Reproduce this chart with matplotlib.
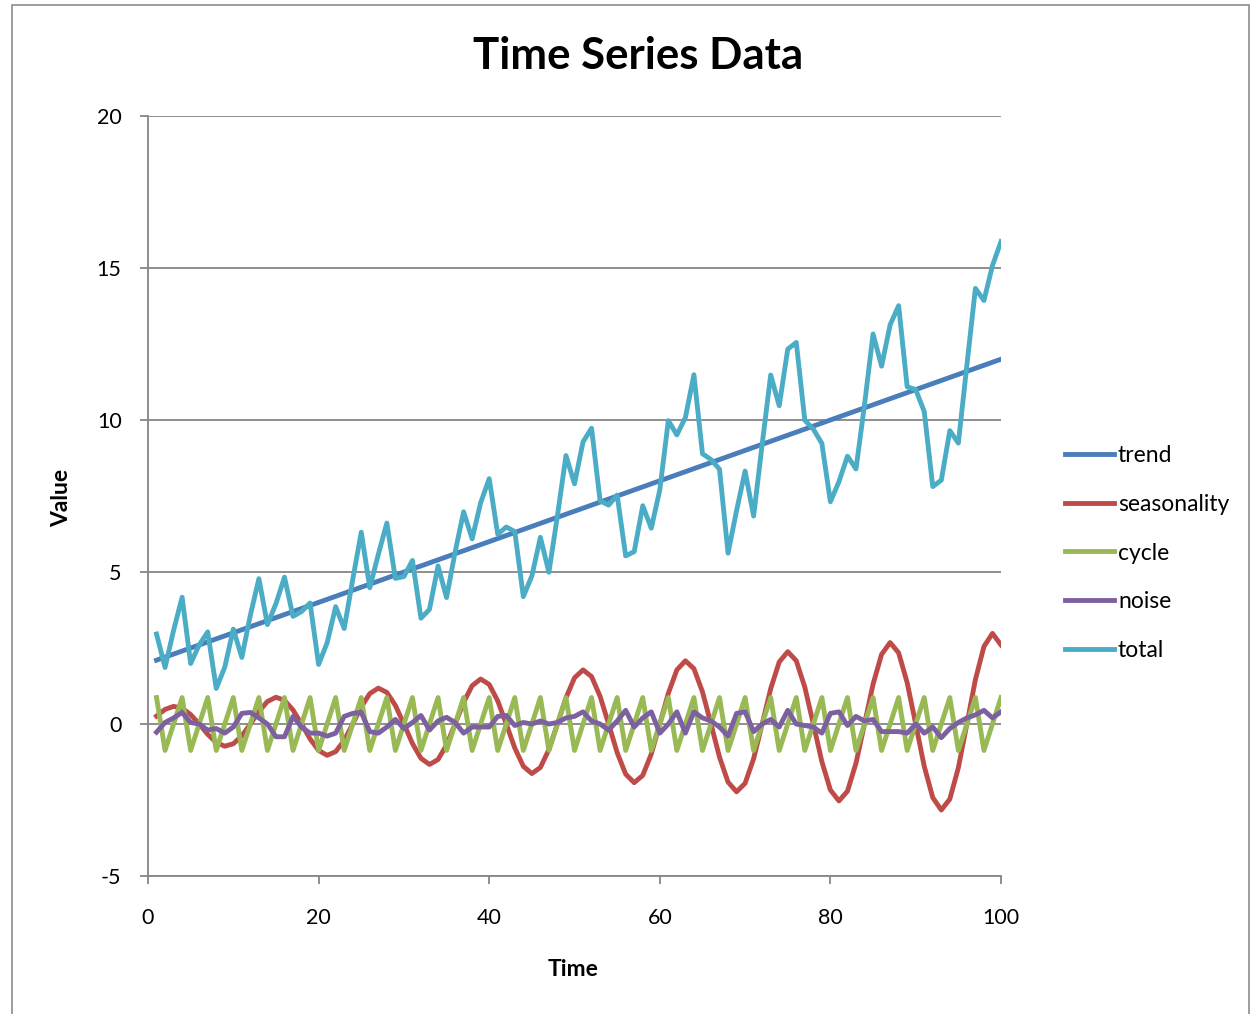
import numpy as np
import matplotlib
matplotlib.use("Agg")
import matplotlib.pyplot as plt
from matplotlib.patches import Rectangle

plt.rcParams['font.family'] = ['Lato', 'DejaVu Sans']
plt.rcParams['axes.unicode_minus'] = False

# datos (t = 1..100)
time = list(range(1, 101))

trend = [2.1, 2.2, 2.3, 2.4, 2.5, 2.6, 2.7, 2.8, 2.9, 3.0,
         3.1, 3.2, 3.3, 3.4, 3.5, 3.6, 3.7, 3.8, 3.9, 4.0,
         4.1, 4.2, 4.3, 4.4, 4.5, 4.6, 4.7, 4.8, 4.9, 5.0,
         5.1, 5.2, 5.3, 5.4, 5.5, 5.6, 5.7, 5.8, 5.9, 6.0,
         6.1, 6.2, 6.3, 6.4, 6.5, 6.6, 6.7, 6.8, 6.9, 7.0,
         7.1, 7.2, 7.3, 7.4, 7.5, 7.6, 7.7, 7.8, 7.9, 8.0,
         8.1, 8.2, 8.3, 8.4, 8.5, 8.6, 8.7, 8.8, 8.9, 9.0,
         9.1, 9.2, 9.3, 9.4, 9.5, 9.6, 9.7, 9.8, 9.9, 10.0,
         10.1, 10.2, 10.3, 10.4, 10.5, 10.6, 10.7, 10.8, 10.9, 11.0,
         11.1, 11.2, 11.3, 11.4, 11.5, 11.6, 11.7, 11.8, 11.9, 12.0]

seasonality = [0.26, 0.48, 0.58, 0.52, 0.31, 0.0, -0.34, -0.61, -0.73, -0.65,
               -0.39, 0.0, 0.41, 0.74, 0.88, 0.78, 0.46, 0.0, -0.49, -0.87,
               -1.03, -0.91, -0.54, 0.0, 0.56, 1.0, 1.18, 1.04, 0.61, 0.0,
               -0.64, -1.13, -1.33, -1.17, -0.69, 0.0, 0.71, 1.26, 1.48, 1.3,
               0.76, 0.0, -0.79, -1.39, -1.63, -1.43, -0.84, 0.0, 0.86, 1.52,
               1.78, 1.56, 0.91, 0.0, -0.94, -1.65, -1.93, -1.69, -0.99, 0.0,
               1.01, 1.78, 2.08, 1.82, 1.06, 0.0, -1.09, -1.91, -2.23, -1.95,
               -1.14, 0.0, 1.16, 2.04, 2.38, 2.08, 1.21, 0.0, -1.24, -2.17,
               -2.53, -2.21, -1.29, 0.0, 1.31, 2.29, 2.68, 2.34, 1.36, 0.0,
               -1.39, -2.42, -2.83, -2.47, -1.44, 0.0, 1.46, 2.55, 2.98, 2.6]

cycle = [0.87, -0.87, 0.0, 0.87, -0.87, 0.0, 0.87, -0.87, 0.0, 0.87,
         -0.87, 0.0, 0.87, -0.87, 0.0, 0.87, -0.87, 0.0, 0.87, -0.87,
         0.0, 0.87, -0.87, 0.0, 0.87, -0.87, 0.0, 0.87, -0.87, 0.0,
         0.87, -0.87, 0.0, 0.87, -0.87, 0.0, 0.87, -0.87, 0.0, 0.87,
         -0.87, 0.0, 0.87, -0.87, 0.0, 0.87, -0.87, 0.0, 0.87, -0.87,
         0.0, 0.87, -0.87, 0.0, 0.87, -0.87, 0.0, 0.87, -0.87, 0.0,
         0.87, -0.87, 0.0, 0.87, -0.87, 0.0, 0.87, -0.87, 0.0, 0.87,
         -0.87, 0.0, 0.87, -0.87, 0.0, 0.87, -0.87, 0.0, 0.87, -0.87,
         0.0, 0.87, -0.87, 0.0, 0.87, -0.87, 0.0, 0.87, -0.87, 0.0,
         0.87, -0.87, 0.0, 0.87, -0.87, 0.0, 0.87, -0.87, 0.0, 0.87]

noise = [-0.27, 0.05, 0.2, 0.38, 0.05, 0.0, -0.2, -0.15, -0.3, -0.1,
         0.35, 0.38, 0.2, 0.0, -0.42, -0.42, 0.25, -0.1, -0.3, -0.3,
         -0.4, -0.3, 0.25, 0.35, 0.38, -0.25, -0.3, -0.1, 0.15, -0.15,
         0.05, 0.28, -0.2, 0.1, 0.22, 0.05, -0.3, -0.1, -0.1, -0.1,
         0.25, 0.28, -0.05, 0.05, 0.0, 0.1, 0.0, 0.05, 0.2, 0.25,
         0.4, 0.1, 0.0, -0.2, 0.1, 0.45, -0.1, 0.2, 0.4, -0.3,
         0.0, 0.4, -0.3, 0.4, 0.2, 0.1, -0.1, -0.4, 0.35, 0.4,
         -0.25, 0.0, 0.15, -0.1, 0.45, 0.0, -0.05, -0.1, -0.3, 0.35,
         0.4, -0.05, 0.25, 0.1, 0.15, -0.25, -0.25, -0.25, -0.3, 0.0,
         -0.3, -0.1, -0.45, -0.15, 0.05, 0.2, 0.3, 0.45, 0.2, 0.4]

total = [2.96, 1.86, 3.08, 4.17, 1.99, 2.6, 3.03, 1.17, 1.87, 3.12,
         2.19, 3.58, 4.78, 3.27, 3.96, 4.83, 3.54, 3.7, 3.98, 1.96,
         2.67, 3.86, 3.14, 4.75, 6.31, 4.48, 5.58, 6.61, 4.79, 4.85,
         5.38, 3.48, 3.77, 5.2, 4.16, 5.65, 6.98, 6.09, 7.28, 8.07,
         6.24, 6.48, 6.33, 4.19, 4.87, 6.14, 4.99, 6.85, 8.83, 7.9,
         9.28, 9.73, 7.34, 7.2, 7.53, 5.53, 5.67, 7.18, 6.44, 7.7,
         9.98, 9.51, 10.08, 11.49, 8.89, 8.7, 8.38, 5.62, 7.02, 8.32,
         6.84, 9.2, 11.48, 10.47, 12.33, 12.55, 9.99, 9.7, 9.23, 7.31,
         7.97, 8.81, 8.39, 10.5, 12.83, 11.77, 13.13, 13.76, 11.09, 11.0,
         10.28, 7.81, 8.02, 9.65, 9.24, 11.8, 14.33, 13.93, 15.08, 15.87]

series = [("trend", trend, "#4A7EBB"),
          ("seasonality", seasonality, "#BE4B48"),
          ("cycle", cycle, "#98B954"),
          ("noise", noise, "#7D60A0"),
          ("total", total, "#4BACC6")]

fig = plt.figure(figsize=(12.51, 10.14), dpi=100)
ax = fig.add_axes([148 / 1251, 1 - 876 / 1014, 853 / 1251, 760 / 1014])

for name, vals, col in series:
    ax.plot(time, vals, color=col, linewidth=3.5, label=name, solid_joinstyle='round')

ax.set_xlim(0, 100)
ax.set_ylim(-5, 20)
ax.set_xticks([0, 20, 40, 60, 80, 100])
ax.set_yticks([-5, 0, 5, 10, 15, 20])
ax.yaxis.grid(True, color='#868686', linewidth=1.3)
ax.set_axisbelow(True)
for s in ['top', 'right']:
    ax.spines[s].set_visible(False)
for s in ['left', 'bottom']:
    ax.spines[s].set_color('#868686')
    ax.spines[s].set_linewidth(1.3)
ax.tick_params(axis='both', colors='#868686', length=6, width=1.3, labelsize=15.5,
               labelcolor='black')
ax.tick_params(axis='x', pad=17)
ax.tick_params(axis='y', pad=13)

ax.set_xlabel('Time', fontsize=16.5, fontweight='bold', va='center', ha='center')
ax.set_ylabel('Value', fontsize=16.5, fontweight='bold', va='center', ha='center')
ax.xaxis.set_label_coords((573 - 148) / 853, (876 - 970) / 760)
ax.yaxis.set_label_coords((62 - 148) / 853, (876 - 498) / 760)

fig.text(638 / 1251, 1 - 56 / 1014, 'Time Series Data', fontsize=31.5, fontweight='bold',
         ha='center', va='center')

leg = fig.legend(loc='center left', bbox_to_anchor=(1056 / 1251, 1 - 553 / 1014),
                 frameon=False, fontsize=16.5, handlelength=2.15, handletextpad=0.15,
                 labelspacing=1.22, borderaxespad=0)

# borde del area del grafico
fig.patches.append(Rectangle((12 / 1251, -0.01), 1237 / 1251, 1.01 - 5 / 1014,
                             transform=fig.transFigure, fill=False,
                             edgecolor='#8c8c8c', linewidth=1.2))

plt.savefig('out.png', dpi=100)
